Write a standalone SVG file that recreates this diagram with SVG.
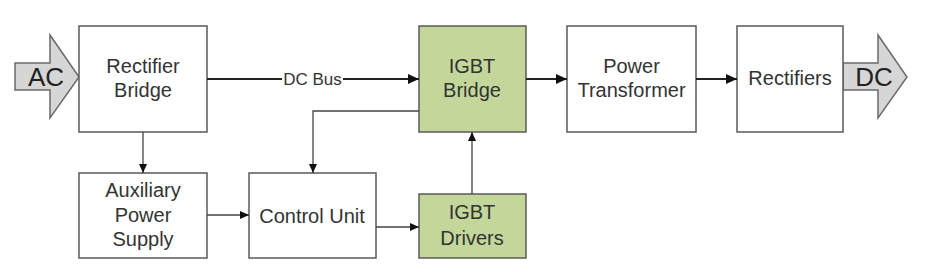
<svg xmlns="http://www.w3.org/2000/svg" width="929" height="279" viewBox="0 0 929 279">
<style>
.box{fill:#fff;stroke:#5a5a5a;stroke-width:1.5}
.green{fill:#c4d79b;stroke:#5a5a5a;stroke-width:1.5}
.big{fill:#d6d6d6;stroke:#6a6a6a;stroke-width:1.5}
text{font-family:"Liberation Sans",Arial,sans-serif;fill:#333;text-anchor:middle}
.t{font-size:20px}
.lbl{font-size:17px}
.io{font-size:26px;fill:#222}
.thick{stroke:#222;stroke-width:2.2;fill:none}
.thin{stroke:#444;stroke-width:1.3;fill:none}
</style>
<defs>
<marker id="ah" markerWidth="12" markerHeight="10" refX="11" refY="5" orient="auto" markerUnits="userSpaceOnUse">
<path d="M0,0 L11,5 L0,10 Z" fill="#111"/>
</marker>
<marker id="as" markerWidth="10" markerHeight="8" refX="9" refY="4" orient="auto" markerUnits="userSpaceOnUse">
<path d="M0,0 L9,4 L0,8 Z" fill="#111"/>
</marker>
</defs>
<g id="ac">
<path class="big" d="M15,63 L50,63 L50,35 L79,77 L50,118 L50,90 L15,90 Z"/>
<text class="io" x="46" y="86">AC</text>
</g>
<g id="dc">
<path class="big" d="M843,63 L878,63 L878,35 L907,77 L878,118 L878,90 L843,90 Z"/>
<text class="io" x="874" y="86">DC</text>
</g>
<g id="rectifier-bridge">
<rect class="box" x="79" y="26" width="128" height="106"/>
<text class="t" x="143" y="73">Rectifier</text>
<text class="t" x="143" y="97">Bridge</text>
</g>
<g id="aux-power">
<rect class="box" x="79" y="173" width="128" height="85"/>
<text class="t" x="143" y="197">Auxiliary</text>
<text class="t" x="143" y="222">Power</text>
<text class="t" x="143" y="246">Supply</text>
</g>
<g id="control-unit">
<rect class="box" x="249" y="173" width="127" height="85"/>
<text class="t" x="312" y="223">Control Unit</text>
</g>
<g id="igbt-bridge">
<rect class="green" x="419" y="26" width="107" height="106"/>
<text class="t" x="472" y="73">IGBT</text>
<text class="t" x="472" y="97">Bridge</text>
</g>
<g id="igbt-drivers">
<rect class="green" x="419" y="194" width="107" height="64"/>
<text class="t" x="472" y="219">IGBT</text>
<text class="t" x="472" y="245">Drivers</text>
</g>
<g id="power-transformer">
<rect class="box" x="567" y="26" width="129" height="106"/>
<text class="t" x="631.5" y="73">Power</text>
<text class="t" x="631.5" y="97">Transformer</text>
</g>
<g id="rectifiers">
<rect class="box" x="737" y="26" width="106" height="106"/>
<text class="t" x="790" y="85">Rectifiers</text>
</g>
<g id="connectors">
<line class="thick" x1="207" y1="79" x2="282" y2="79"/>
<text class="lbl" x="312.5" y="85">DC Bus</text>
<line class="thick" x1="343" y1="79" x2="419" y2="79" marker-end="url(#ah)"/>
<line class="thick" x1="526" y1="79" x2="567" y2="79" marker-end="url(#ah)"/>
<line class="thick" x1="696" y1="79" x2="737" y2="79" marker-end="url(#ah)"/>
<line class="thin" x1="143" y1="132" x2="143" y2="173" marker-end="url(#as)"/>
<line class="thin" x1="207" y1="215" x2="249" y2="215" marker-end="url(#as)"/>
<line class="thin" x1="376" y1="227" x2="419" y2="227" marker-end="url(#as)"/>
<line class="thin" x1="472" y1="194" x2="472" y2="132" marker-end="url(#as)"/>
<polyline class="thin" points="419,111 313,111 313,173" marker-end="url(#as)"/>
</g>
</svg>
